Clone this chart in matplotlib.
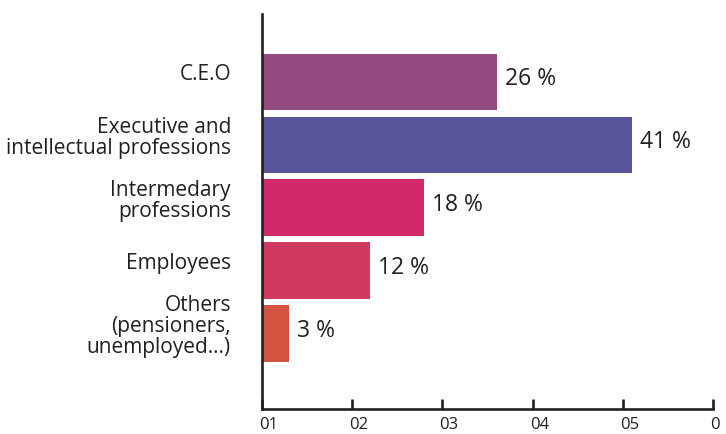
import matplotlib
matplotlib.use("Agg")
import matplotlib.pyplot as plt
import matplotlib.transforms as mtransforms

# Socio-professional categories and their share (%)
categories = [
    "C.E.O",
    "Executive and\nintellectual professions",
    "Intermedary\nprofessions",
    "Employees",
    "Others\n(pensioners,\nunemployed...)",
]
shares = [26, 41, 18, 12, 3]
bar_colors = ["#934A7E", "#58559B", "#D2296A", "#CF3A5E", "#D25441"]
tick_values = [0, 10, 20, 30, 40, 50]
tick_labels = ["01", "02", "03", "04", "05", "0"]

plt.rcParams['font.family'] = ['Open Sans', 'DejaVu Sans']
ink = '#231F20'

fig = plt.figure(figsize=(7.26, 4.34), dpi=100, facecolor='white')
ax = fig.add_axes([262 / 726, 25 / 434, 451 / 726, 395 / 434])

ypos = list(range(len(categories)))
ax.barh(ypos, shares, height=0.9, color=bar_colors, zorder=1)

ax.set_xlim(0, 50)
ax.set_ylim(5.2, -1.08)

# category labels sit to the left of the axis, nudged a little upward
lift = mtransforms.ScaledTranslation(0, 5 / 72, fig.dpi_scale_trans)
for y, name in zip(ypos, categories):
    ax.text(-31 / 9.02, y, name, ha='right', va='center', fontsize=15,
            color=ink, linespacing=1.0, transform=ax.transData + lift)

# value labels just past the end of each bar
vlift = mtransforms.ScaledTranslation(0, 2 / 72, fig.dpi_scale_trans)
for y, v in zip(ypos, shares):
    ax.text(v + 0.9, y, f"{v} %", ha='left', va='center', fontsize=16.5,
            color=ink, transform=ax.transData + vlift)

for side in ('top', 'right'):
    ax.spines[side].set_visible(False)
for side in ('left', 'bottom'):
    ax.spines[side].set_color(ink)
    ax.spines[side].set_linewidth(1.9)

ax.set_yticks([])
ax.set_xticks(tick_values)
ax.set_xticklabels(tick_labels, ha='left')
ax.tick_params(axis='x', direction='in', length=7, width=1.9, color=ink,
               labelsize=12, labelcolor=ink, pad=6)
for lbl in ax.get_xticklabels():
    lbl.set_transform(lbl.get_transform() + mtransforms.ScaledTranslation(-2 / 72, 0, fig.dpi_scale_trans))

fig.savefig("out.png", dpi=100, facecolor='white')
